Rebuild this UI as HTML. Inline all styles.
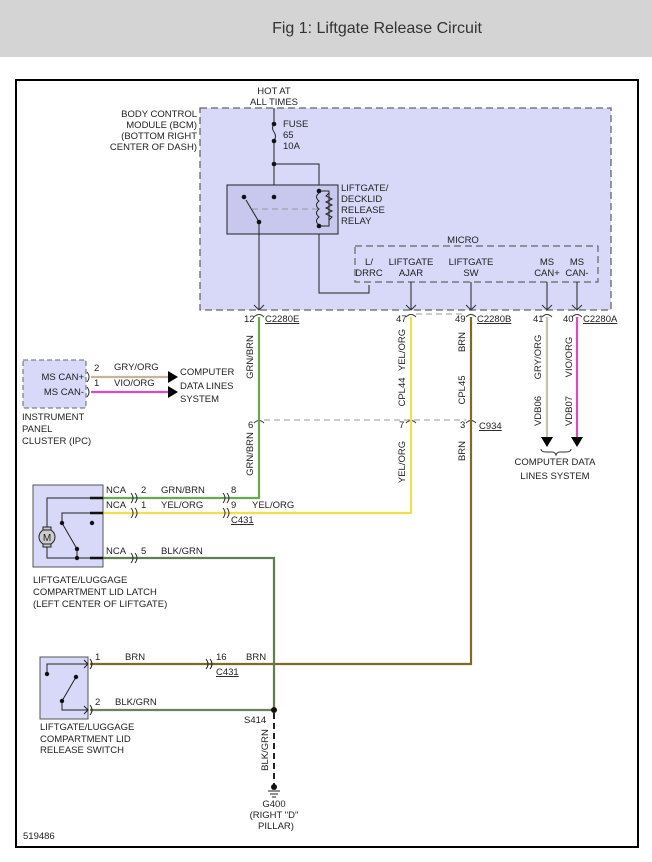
<!DOCTYPE html>
<html><head><meta charset="utf-8"><style>
html,body{margin:0;padding:0;background:#fff}
svg{display:block}
text{font-family:"Liberation Sans",sans-serif;font-size:9.5px;fill:#222}
</style></head><body>
<svg width="652" height="862" viewBox="0 0 652 862" xmlns="http://www.w3.org/2000/svg">
<rect x="0" y="0" width="652" height="57" fill="#d4d4d4"/>
<text x="377" y="33" style="font-size:16px;fill:#333" text-anchor="middle">Fig 1: Liftgate Release Circuit</text>
<rect x="16" y="80" width="622" height="767" fill="#fff" stroke="#000" stroke-width="2"/>

<!-- BCM -->
<rect x="200" y="108" width="411" height="202" fill="#d8d8f8" stroke="#666" stroke-width="1.3" stroke-dasharray="7,4"/>
<g text-anchor="end">
<text x="197" y="117">BODY CONTROL</text><text x="197" y="128">MODULE (BCM)</text><text x="197" y="139">(BOTTOM RIGHT</text><text x="197" y="150">CENTER OF DASH)</text></g>
<text x="274" y="94" text-anchor="middle">HOT AT</text><text x="274" y="105" text-anchor="middle">ALL TIMES</text>
<g stroke="#222" fill="none" stroke-width="1">
<line x1="274" y1="108" x2="274" y2="124"/>
<path d="M274 124 q-3 4 0 8 q3 4 0 9"/>
<line x1="274" y1="141" x2="274" y2="197"/>
<polyline points="274,164 319,164 319,293 369,293 369,285"/>
<rect x="227" y="185" width="111" height="49" fill="#c8c8ee"/>
<line x1="259" y1="222" x2="246" y2="200"/>
<line x1="252" y1="209" x2="318" y2="209" stroke="#999" stroke-dasharray="6,4"/>
<path d="M319 193 q-5 4 0 8 q-5 4 0 8 q-5 4 0 8 q-5 4 0 8"/>
<polyline points="319,191 329,191 329,226 319,226"/>
<path d="M329 193 l-3 3 l6 3 l-6 3 l6 3 l-6 3 l6 3 l-6 3 l6 3 l-3 3"/>
<line x1="259" y1="222" x2="259" y2="310"/>
</g>
<g fill="#111"><circle cx="274" cy="124" r="2.3"/><circle cx="274" cy="141" r="2.3"/><circle cx="274" cy="164" r="2.3"/><circle cx="274" cy="197" r="2.3"/><circle cx="244" cy="197" r="2.3"/><circle cx="259" cy="222" r="2.3"/><circle cx="319" cy="191" r="2.3"/><circle cx="319" cy="226" r="2.3"/></g>
<text x="283" y="127">FUSE</text><text x="283" y="138">65</text><text x="283" y="149">10A</text>
<text x="341" y="191">LIFTGATE/</text><text x="341" y="202">DECKLID</text><text x="341" y="213">RELEASE</text><text x="341" y="224">RELAY</text>
<rect x="355" y="246" width="243" height="36" fill="none" stroke="#666" stroke-width="1.2" stroke-dasharray="7,4"/>
<text x="463" y="243" text-anchor="middle">MICRO</text>
<g text-anchor="middle"><text x="369" y="265">L/</text><text x="369" y="276">DRRC</text>
<text x="411" y="265">LIFTGATE</text><text x="411" y="276">AJAR</text>
<text x="471" y="265">LIFTGATE</text><text x="471" y="276">SW</text>
<text x="547" y="265">MS</text><text x="547" y="276">CAN+</text>
<text x="577" y="265">MS</text><text x="577" y="276">CAN-</text></g>
<g stroke="#222" stroke-width="1"><line x1="411" y1="282" x2="411" y2="310"/><line x1="471" y1="282" x2="471" y2="310"/><line x1="547" y1="282" x2="547" y2="310"/><line x1="577" y1="282" x2="577" y2="310"/></g>
<g fill="none" stroke="#333" stroke-width="1"><path d="M254 305 l5 5 l5 -5"/><path d="M406 305 l5 5 l5 -5"/><path d="M466 305 l5 5 l5 -5"/><path d="M542 305 l5 5 l5 -5"/><path d="M572 305 l5 5 l5 -5"/></g>
<g fill="none" stroke="#333" stroke-width="1"><path d="M254 317 q5 -5 10 0"/><path d="M406 317 q5 -5 10 0"/><path d="M466 317 q5 -5 10 0"/><path d="M542 317 q5 -5 10 0"/><path d="M572 317 q5 -5 10 0"/><path d="M245 423 q5 -5 10 0" transform="translate(9 0)"/><path d="M406 423 q5 -5 10 0"/><path d="M466 423 q5 -5 10 0"/></g>
<line x1="416" y1="314" x2="466" y2="314" stroke="#999" stroke-dasharray="6,4"/>
<line x1="264" y1="420" x2="466" y2="420" stroke="#999" stroke-dasharray="6,4"/>
<text x="244" y="322">12</text><text x="265" y="322" text-decoration="underline">C2280E</text>
<text x="396" y="322">47</text><text x="455" y="322">49</text><text x="477" y="322" text-decoration="underline">C2280B</text>
<text x="533" y="322">41</text><text x="563" y="322">40</text><text x="583" y="322" text-decoration="underline">C2280A</text>
<text x="248" y="428">6</text><text x="399" y="428">7</text><text x="460" y="428">3</text><text x="479" y="429" text-decoration="underline">C934</text>

<!-- wires -->
<g fill="none" stroke-width="2.2">
<polyline points="259,317 259,498 90,498" stroke="#6aa84f"/>
<polyline points="411,317 411,513 90,513" stroke="#f0e04a"/>
<polyline points="471,317 471,664 90,664" stroke="#7d6a25"/>
<line x1="547" y1="317" x2="547" y2="440" stroke="#c9bfae"/>
<line x1="577" y1="317" x2="577" y2="440" stroke="#d94bc6"/>
<polyline points="90,558 274,558 274,710" stroke="#5e7f52"/>
<line x1="90" y1="710" x2="274" y2="710" stroke="#6a8060"/>
<line x1="91" y1="377" x2="170" y2="377" stroke="#c9b39a"/>
<line x1="91" y1="392" x2="170" y2="392" stroke="#d94bc6"/>
</g>
<g fill="#000"><path d="M541 437 l12 0 l-6 10z"/><path d="M571 437 l12 0 l-6 10z"/><path d="M168 371 l10 6 l-10 6z"/><path d="M168 386 l10 6 l-10 6z"/></g>
<path d="M541 449 q0 3 5 3 l6 0 q3 0 4 3 q1 -3 4 -3 l6 0 q5 0 5 -3" fill="none" stroke="#333"/>
<text x="555" y="465" text-anchor="middle">COMPUTER DATA</text><text x="555" y="479" text-anchor="middle">LINES SYSTEM</text>
<g transform="rotate(-90)" text-anchor="middle">
<text x="-357" y="253">GRN/BRN</text><text x="-454" y="253">GRN/BRN</text>
<text x="-350" y="405">YEL/ORG</text><text x="-392" y="405">CPL44</text><text x="-462" y="405">YEL/ORG</text>
<text x="-342" y="465">BRN</text><text x="-390" y="465">CPL45</text><text x="-451" y="465">BRN</text>
<text x="-357" y="541">GRY/ORG</text><text x="-411" y="541">VDB06</text>
<text x="-357" y="572">VIO/ORG</text><text x="-411" y="572">VDB07</text>
<text x="-750" y="268">BLK/GRN</text></g>

<!-- IPC -->
<rect x="23" y="360" width="63" height="48" fill="#d8d8f8" stroke="#666" stroke-dasharray="5,3"/>
<text x="84" y="380" text-anchor="end">MS CAN+</text><text x="84" y="395" text-anchor="end">MS CAN-</text>
<g fill="none" stroke="#333"><path d="M87 372 q4 5 0 10"/><path d="M87 387 q4 5 0 10"/></g>
<text x="94" y="371">2</text><text x="94" y="386">1</text>
<text x="114" y="370">GRY/ORG</text><text x="114" y="386">VIO/ORG</text>
<text x="180" y="375">COMPUTER</text><text x="180" y="389">DATA LINES</text><text x="180" y="402">SYSTEM</text>
<text x="22" y="420">INSTRUMENT</text><text x="22" y="432">PANEL</text><text x="22" y="444">CLUSTER (IPC)</text>

<!-- Latch -->
<rect x="33" y="485" width="70" height="82" fill="#d8d8f8" stroke="#555"/>
<g stroke="#222" fill="none" stroke-width="1">
<polyline points="103,498 47,498 47,529"/>
<polyline points="103,513 62,513 62,523"/>
<line x1="62" y1="523" x2="77" y2="549"/>
<polyline points="47,545 47,558 103,558"/>
<line x1="77" y1="549" x2="77" y2="558"/>
<circle cx="47" cy="537" r="8" fill="#ccc"/>
<rect x="43" y="527" width="8" height="3" fill="#ccc"/><rect x="43" y="544" width="8" height="3" fill="#ccc"/>
</g>
<g stroke="#111" stroke-width="2.5"><line x1="90" y1="498" x2="103" y2="498"/><line x1="90" y1="513" x2="103" y2="513"/><line x1="90" y1="558" x2="103" y2="558"/></g>
<text x="47" y="541" text-anchor="middle" style="font-size:10px">M</text>
<g fill="#111"><circle cx="62" cy="523" r="2.2"/><circle cx="92" cy="523" r="2.2"/><circle cx="77" cy="549" r="2.2"/><circle cx="77" cy="558" r="2.2"/></g>
<g fill="none" stroke="#333"><path d="M131 493 q4 5 0 10 M135 493 q4 5 0 10"/><path d="M131 508 q4 5 0 10 M135 508 q4 5 0 10"/><path d="M131 553 q4 5 0 10 M135 553 q4 5 0 10"/>
<path d="M223 493 q4 5 0 10 M227 493 q4 5 0 10"/><path d="M223 508 q4 5 0 10 M227 508 q4 5 0 10"/></g>
<text x="106" y="493">NCA</text><text x="106" y="508">NCA</text><text x="106" y="554">NCA</text>
<text x="141" y="493">2</text><text x="141" y="508">1</text><text x="141" y="554">5</text>
<text x="161" y="493">GRN/BRN</text><text x="161" y="508">YEL/ORG</text><text x="161" y="554">BLK/GRN</text>
<text x="231" y="493">8</text><text x="231" y="508">9</text><text x="252" y="508">YEL/ORG</text>
<text x="231" y="523" text-decoration="underline">C431</text>
<text x="33" y="583">LIFTGATE/LUGGAGE</text><text x="33" y="595">COMPARTMENT LID LATCH</text><text x="33" y="607">(LEFT CENTER OF LIFTGATE)</text>

<!-- Switch -->
<rect x="40" y="657" width="48" height="62" fill="#d8d8f8" stroke="#555"/>
<g stroke="#222" fill="none"><polyline points="47,674 47,664 88,664"/><path d="M84 660 l4 4 l-4 4"/><line x1="62" y1="701" x2="76" y2="677"/><polyline points="62,701 62,710 88,710"/><path d="M84 706 l4 4 l-4 4"/>
<path d="M90 659 q4 5 0 10"/><path d="M90 705 q4 5 0 10"/><path d="M206 659 q4 5 0 10 M210 659 q4 5 0 10"/></g>
<g fill="#111"><circle cx="47" cy="674" r="2.2"/><circle cx="76" cy="677" r="2.2"/><circle cx="62" cy="701" r="2.2"/><circle cx="274" cy="710" r="3"/></g>
<text x="95" y="660">1</text><text x="125" y="660">BRN</text><text x="216" y="660">16</text><text x="246" y="660">BRN</text>
<text x="216" y="675" text-decoration="underline">C431</text>
<text x="95" y="705">2</text><text x="115" y="705">BLK/GRN</text>
<text x="40" y="730">LIFTGATE/LUGGAGE</text><text x="40" y="742">COMPARTMENT LID</text><text x="40" y="753">RELEASE SWITCH</text>
<text x="244" y="723">S414</text>
<line x1="274" y1="713" x2="274" y2="786" stroke="#222" stroke-width="2" stroke-dasharray="6,4"/>
<circle cx="274" cy="787" r="3" fill="#111"/>
<g stroke="#222"><line x1="268" y1="791" x2="280" y2="791"/><line x1="270" y1="794" x2="278" y2="794"/><line x1="272" y1="797" x2="276" y2="797"/></g>
<g text-anchor="middle"><text x="274" y="807">G400</text><text x="274" y="818">(RIGHT "D"</text><text x="276" y="829">PILLAR)</text></g>
<text x="23" y="839">519486</text>
</svg>
</body></html>
